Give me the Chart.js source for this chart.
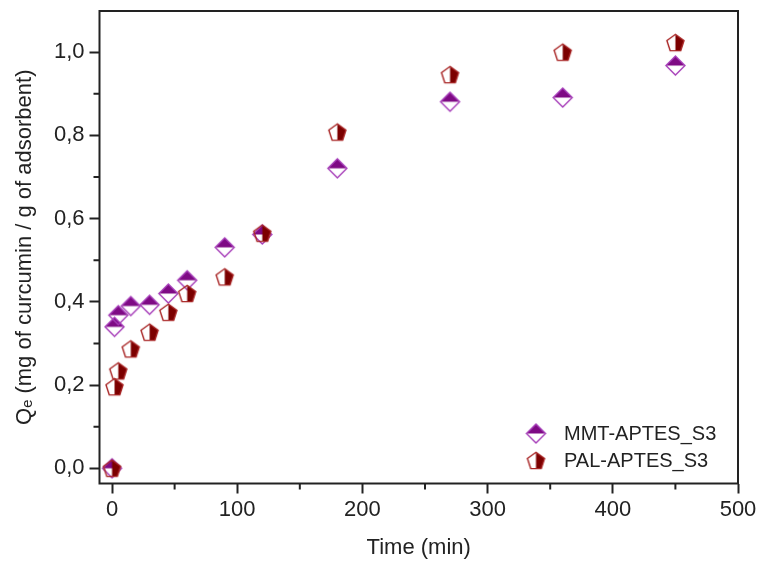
<!DOCTYPE html>
<html>
<head>
<meta charset="utf-8">
<script src="https://cdn.jsdelivr.net/npm/chart.js@4.4.1/dist/chart.umd.min.js"></script>
<style>
  html, body { margin: 0; padding: 0; background: #fff; }
  #wrap { width: 759px; height: 561px; }
</style>
</head>
<body>
<div id="wrap"><canvas id="myChart" width="759" height="561"></canvas></div>
<script>
// adsorption time (min) and Qe for both materials
const timeMin = [0, 2, 5, 15, 30, 45, 60, 90, 120, 180, 270, 360, 450];
const mmtQe = [0.0, 0.34, 0.368, 0.39, 0.393, 0.42, 0.452, 0.531, 0.562, 0.721, 0.881, 0.891, 0.968];
const palQe = [0.0, 0.196, 0.234, 0.287, 0.327, 0.375, 0.42, 0.46, 0.565, 0.808, 0.946, 1.0, 1.023];
const xMajor = [0, 100, 200, 300, 400, 500];
const xMinor = [50, 150, 250, 350, 450];
const yMajor = [0, 0.2, 0.4, 0.6, 0.8, 1.0];
const yMinor = [0.1, 0.3, 0.5, 0.7, 0.9];
const seriesNames = ['MMT-APTES_S3', 'PAL-APTES_S3'];

const FONT = "'Liberation Sans', Arial, sans-serif";
const INK = '#222';

// half filled diamond: top half solid
function diamondMarker(fill, line) {
  const c = document.createElement('canvas');
  c.width = 23; c.height = 23;
  const g = c.getContext('2d');
  const m = 11.5, r = 9.5;
  g.beginPath();
  g.moveTo(m - r, m); g.lineTo(m, m - r); g.lineTo(m + r, m); g.closePath();
  g.fillStyle = fill; g.fill();
  g.beginPath();
  g.moveTo(m, m - r); g.lineTo(m + r, m); g.lineTo(m, m + r); g.lineTo(m - r, m); g.closePath();
  g.lineWidth = 1.4; g.strokeStyle = line; g.stroke();
  return c;
}

// half filled pentagon: right half solid
function pentagonMarker(fill, line) {
  const c = document.createElement('canvas');
  c.width = 21; c.height = 21;
  const g = c.getContext('2d');
  const cx = 10.5, cy = 11.3, r = 9;
  const path = () => {
    g.beginPath();
    for (let i = 0; i < 5; i++) {
      const a = -Math.PI / 2 + i * 2 * Math.PI / 5;
      const px = cx + r * Math.cos(a), py = cy + r * Math.sin(a);
      if (i === 0) g.moveTo(px, py); else g.lineTo(px, py);
    }
    g.closePath();
  };
  g.save();
  g.beginPath(); g.rect(cx, 0, 21, 21); g.clip();
  path(); g.fillStyle = fill; g.fill();
  g.restore();
  path(); g.lineWidth = 1.4; g.strokeStyle = line; g.stroke();
  return c;
}

const mmtIcon = diamondMarker('#7e0a84', '#a53cb8');
const palIcon = pentagonMarker('#7c0000', '#a82424');

function pairs(xs, ys) {
  return xs.map((x, i) => ({ x: x, y: ys[i] }));
}

// frame box, short minor ticks and the inset legend
const framePlugin = {
  id: 'frame',
  afterDraw(chart) {
    const { ctx, chartArea: a } = chart;
    const xs = chart.scales.x, ys = chart.scales.y;
    ctx.save();
    ctx.strokeStyle = INK;
    ctx.lineWidth = 2;
    ctx.strokeRect(a.left, a.top, a.right - a.left, a.bottom - a.top);
    ctx.beginPath();
    xMinor.forEach(v => {
      const px = xs.getPixelForValue(v);
      ctx.moveTo(px, a.bottom); ctx.lineTo(px, a.bottom + 6);
    });
    yMinor.forEach(v => {
      const py = ys.getPixelForValue(v);
      ctx.moveTo(a.left - 6, py); ctx.lineTo(a.left, py);
    });
    ctx.stroke();

    const icons = [mmtIcon, palIcon];
    ctx.font = '20px ' + FONT;
    ctx.fillStyle = INK;
    ctx.textBaseline = 'middle';
    ctx.textAlign = 'left';
    const lx = a.right - 202, ly = a.bottom - 50;
    chart.data.datasets.forEach((ds, i) => {
      const img = icons[i];
      const y = ly + i * 27;
      ctx.drawImage(img, lx - img.width / 2, y - img.height / 2);
      ctx.fillText(ds.label, lx + 28, y + 1);
    });
    ctx.restore();
  }
};

const ctx = document.getElementById('myChart').getContext('2d');
const myChart = new Chart(ctx, {
  type: 'scatter',
  data: {
    datasets: [{
      label: seriesNames[0],
      data: pairs(timeMin, mmtQe),
      pointStyle: mmtIcon,
      order: 2
    }, {
      label: seriesNames[1],
      data: pairs(timeMin, palQe),
      pointStyle: palIcon,
      order: 1
    }]
  },
  options: {
    responsive: false,
    animation: false,
    layout: { padding: { left: 0, top: 11, right: 21, bottom: 0 } },
    plugins: {
      legend: { display: false },
      tooltip: { enabled: false }
    },
    scales: {
      x: {
        type: 'linear',
        min: -10,
        max: 500,
        afterBuildTicks: s => { s.ticks = xMajor.map(v => ({ value: v })); },
        afterFit: s => { s.height = 77.5; s.paddingLeft = 0; s.paddingRight = 0; },
        grid: { drawOnChartArea: false, tickLength: 10, tickWidth: 2, color: INK },
        border: { display: false },
        ticks: { color: INK, font: { family: FONT, size: 22 }, padding: 3, maxRotation: 0 },
        title: {
          display: true,
          text: 'Time (min)',
          color: INK,
          font: { family: FONT, size: 22 },
          padding: { top: 0, bottom: 0 }
        }
      },
      y: {
        type: 'linear',
        min: -0.0365,
        max: 1.099,
        afterBuildTicks: s => { s.ticks = yMajor.map(v => ({ value: v })); },
        afterFit: s => { s.width = 99.5; s.paddingTop = 0; s.paddingBottom = 0; },
        grid: { drawOnChartArea: false, tickLength: 10, tickWidth: 2, color: INK },
        border: { display: false },
        ticks: {
          color: INK,
          font: { family: FONT, size: 22 },
          padding: 5,
          callback: v => v.toFixed(1).replace('.', ',')
        },
        title: {
          display: true,
          text: 'Qₑ (mg of curcumin / g of adsorbent)',
          color: INK,
          font: { family: FONT, size: 22 },
          padding: { top: 12, bottom: 0 }
        }
      }
    }
  },
  plugins: [framePlugin]
});
</script>
</body>
</html>
